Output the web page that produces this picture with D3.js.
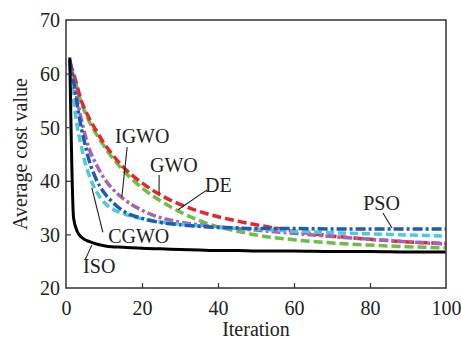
<!DOCTYPE html>
<html>
<head>
<meta charset="utf-8">
<script src="https://cdn.jsdelivr.net/npm/d3@7"></script>
<style>
  body { margin: 0; background: #fff; }
  svg text { font-family: "Liberation Serif", Tinos, "DejaVu Serif", serif; fill: #222; }
</style>
</head>
<body>
<svg id="chart" width="461" height="342"></svg>
<script>
// iteration points where the curves were read
const iterations = [1, 2, 3, 4, 5, 6, 8, 10, 12, 15, 20, 25, 30, 35, 40, 45, 50, 60, 70, 80, 90, 100];

const isoValues  = [63, 33, 30.5, 29.5, 29, 28.7, 28.2, 27.9, 27.7, 27.6, 27.4, 27.3, 27.2, 27.1, 27.0, 27.0, 26.9, 26.9, 26.8, 26.8, 26.7, 26.7];
const cgwoValues = [62, 55, 50, 46.5, 43.5, 41.2, 38, 36, 34.8, 33.9, 32.9, 32.3, 31.9, 31.6, 31.3, 31.1, 31.0, 30.6, 30.3, 30.1, 29.9, 29.7];
const psoValues  = [62.5, 58.5, 54, 50, 46.8, 44, 40.2, 37.8, 36.2, 34.4, 33, 32.2, 31.8, 31.5, 31.3, 31.2, 31.1, 31.1, 31.0, 31.0, 31.0, 31.0];
const igwoValues = [62.5, 59, 55, 51.5, 48.6, 46.2, 43, 40.5, 38.7, 36.7, 34.5, 33.1, 32.3, 31.8, 31.4, 31.1, 30.8, 30.2, 29.6, 29.1, 28.6, 28.2];
const deValues   = [62, 60, 57.5, 55, 53.3, 51.8, 49.3, 47, 45.1, 42.6, 39.6, 37.3, 35.6, 34.3, 33.3, 32.5, 31.8, 30.6, 29.7, 29.1, 28.6, 28.3];
const gwoValues  = [61, 59.5, 57, 54.6, 52.8, 51.2, 48.7, 46.5, 44.5, 42, 38.7, 36.2, 34.2, 32.6, 31.4, 30.6, 29.9, 29.0, 28.4, 28.0, 27.7, 27.5];

const xTicks = [0, 20, 40, 60, 80, 100];
const yTicks = [20, 30, 40, 50, 60, 70];

const series = [
  {name: 'GWO',  values: gwoValues,  color: '#6cbf45', dash: '9,4'},
  {name: 'DE',   values: deValues,   color: '#e8262a', dash: '9,4'},
  {name: 'IGWO', values: igwoValues, color: '#a364b8', dash: '9,3,3,3'},
  {name: 'CGWO', values: cgwoValues, color: '#4cc8e0', dash: '8,4'},
  {name: 'PSO',  values: psoValues,  color: '#1e5bb8', dash: '10,3,3,3'},
  {name: 'ISO',  values: isoValues,  color: '#000000', dash: null}
];

// label positions (data coords) and leader lines
const labels = [
  {text: 'IGWO', x: 12.9, y: 47.1, lx1: 16.1, ly1: 46.3, lx2: 14.7, ly2: 37.0},
  {text: 'GWO',  x: 22.1, y: 41.7, lx1: 24.5, ly1: 41.1, lx2: 24.5, ly2: 37.7},
  {text: 'DE',   x: 36.6, y: 38.0, lx1: 37.1, ly1: 38.3, lx2: 29.5, ly2: 34.6},
  {text: 'CGWO', x: 11.1, y: 28.4, lx1: 9.7,  ly1: 30.4, lx2: 6.8,  ly2: 38.7},
  {text: 'ISO',  x: 4.5,  y: 22.8, lx1: 5.0,  ly1: 25.2, lx2: 6.8,  ly2: 28.0},
  {text: 'PSO',  x: 78.2, y: 34.6, lx1: 83.4, ly1: 34.0, lx2: 85.8, ly2: 31.2}
];

const margin = {top: 20, right: 15, bottom: 54, left: 66};
const width = 461 - margin.left - margin.right;
const height = 342 - margin.top - margin.bottom;
const fontFamily = '"Liberation Serif", Tinos, "DejaVu Serif", serif';

const svg = d3.select('#chart');
const g = svg.append('g')
  .attr('transform', 'translate(' + margin.left + ',' + margin.top + ')');

const x = d3.scaleLinear().domain([0, 100]).range([0, width]);
const y = d3.scaleLinear().domain([20, 70]).range([height, 0]);

const drawLine = d3.line()
  .curve(d3.curveMonotoneX)
  .x((d) => x(d[0]))
  .y((d) => y(d[1]));

// curves
series.forEach((s) => {
  g.append('path')
    .datum(iterations.map((it, i) => [it, s.values[i]]))
    .attr('fill', 'none')
    .attr('stroke', s.color)
    .attr('stroke-width', s.dash ? 3.5 : 3)
    .attr('stroke-dasharray', s.dash)
    .attr('d', drawLine);
});

// axes (ticks pointing inward)
const xAxis = g.append('g')
  .attr('transform', 'translate(0,' + height + ')')
  .call(d3.axisBottom(x).tickValues(xTicks).tickSize(-5).tickPadding(13).tickSizeOuter(0));
const yAxis = g.append('g')
  .call(d3.axisLeft(y).tickValues(yTicks).tickSize(-5).tickPadding(6).tickSizeOuter(0));

[xAxis, yAxis].forEach((ax) => {
  ax.attr('font-family', null).attr('font-size', null);
  ax.select('.domain').remove();
  ax.selectAll('.tick line').attr('stroke', '#333').attr('stroke-width', 1.2);
  ax.selectAll('.tick text')
    .attr('font-family', fontFamily)
    .attr('font-size', 20)
    .attr('fill', '#222');
});
xAxis.selectAll('.tick').filter((d) => d === 0 || d === 100).select('line').remove();
yAxis.selectAll('.tick').filter((d) => d === 20 || d === 70).select('line').remove();
yAxis.selectAll('.tick text').attr('dy', '0.34em');

// frame
g.append('rect')
  .attr('x', 0).attr('y', 0)
  .attr('width', width).attr('height', height)
  .attr('fill', 'none')
  .attr('stroke', '#333')
  .attr('stroke-width', 1.5);

// curve labels
labels.forEach((l) => {
  g.append('line')
    .attr('x1', x(l.lx1)).attr('y1', y(l.ly1))
    .attr('x2', x(l.lx2)).attr('y2', y(l.ly2))
    .attr('stroke', '#222')
    .attr('stroke-width', 1.1);
  g.append('text')
    .attr('x', x(l.x)).attr('y', y(l.y))
    .attr('font-family', fontFamily)
    .attr('font-size', 20)
    .text(l.text);
});

// axis titles
svg.append('text')
  .attr('x', margin.left + width / 2)
  .attr('y', 336)
  .attr('text-anchor', 'middle')
  .attr('font-family', fontFamily)
  .attr('font-size', 20)
  .text('Iteration');

svg.append('text')
  .attr('transform', 'translate(27,' + (margin.top + height / 2) + ') rotate(-90)')
  .attr('text-anchor', 'middle')
  .attr('font-family', fontFamily)
  .attr('font-size', 20)
  .text('Average cost value');
</script>
</body>
</html>
